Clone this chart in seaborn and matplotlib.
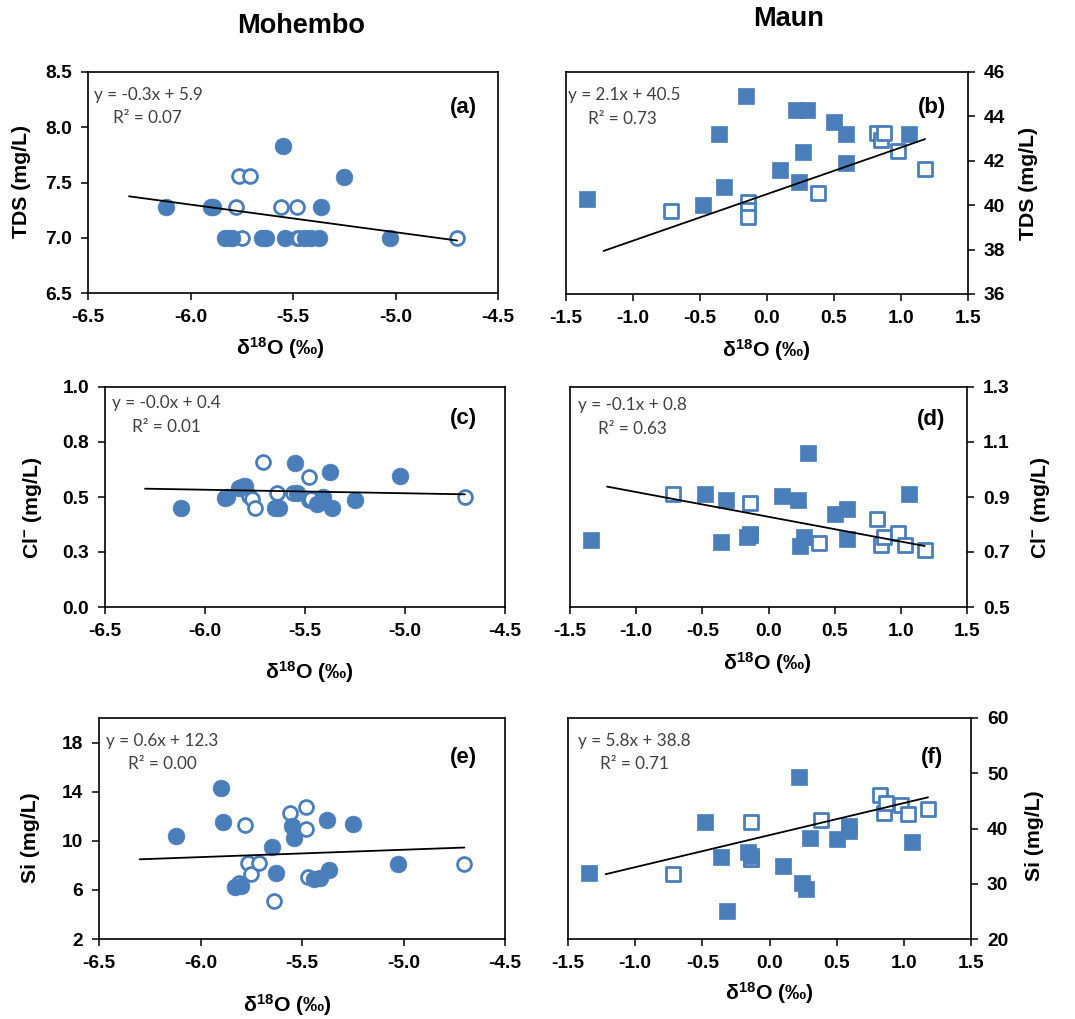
import numpy as np
import matplotlib
matplotlib.use("Agg")
import matplotlib.pyplot as plt
import seaborn as sns

nan = np.nan

# ---- Mohembo: delta-18O (permil) and solutes (mg/L); filled = one campaign, open = the other
mo_filled_d18o = [-6.12, -5.90, -5.89, -5.83, -5.80, -5.65, -5.63, -5.55, -5.54, -5.44, -5.41, -5.375, -5.365, -5.25, -5.025]
mo_filled_tds = [7.28, 7.28, 7.28, 7.00, 7.00, 7.00, 7.00, 7.83, 7.00, 7.00, 7.00, 7.00, 7.28, 7.55, 7.00]
mo_filled_cl = [0.45, 0.495, 0.50, 0.54, 0.55, 0.45, 0.45, 0.655, 0.52, 0.47, 0.50, 0.614, 0.45, 0.485, 0.597]
mo_filled_si = [10.4, 14.3, 11.5, 6.2, 6.3, 9.5, 7.4, 11.2, 10.2, 6.85, 7.0, 11.7, 7.6, 11.4, 8.1]

mo_open_d18o = [-5.81, -5.78, -5.765, -5.75, -5.71, -5.64, -5.56, -5.48, -5.48, -5.47, -4.70]
mo_open_tds = [7.00, 7.28, 7.56, 7.00, 7.56, 7.00, 7.28, 7.28, 7.00, 7.00, 7.00]
mo_open_cl = [0.548, 0.503, 0.49, 0.45, 0.658, 0.518, 0.52, 0.589, 0.488, 0.49, 0.50]
mo_open_si = [6.57, 11.28, 8.2, 7.3, 8.2, 5.07, 12.23, 12.78, 11.0, 7.06, 8.12]

# ---- Maun
mn_filled_d18o = [-1.34, -0.48, -0.36, -0.32, -0.16, -0.14, 0.10, 0.22, 0.24, 0.27, 0.30, 0.50, 0.59, 0.59, 1.06]
mn_filled_tds = [40.3, 40.0, 43.2, 40.8, 44.9, nan, 41.6, 44.3, 41.05, 42.4, 44.3, 43.75, 43.2, 41.9, 43.2]
mn_filled_cl = [0.742, 0.911, 0.736, 0.888, 0.755, 0.767, 0.902, 0.89, 0.723, 0.755, 1.06, 0.838, 0.856, 0.748, 0.911]
mn_filled_si = [31.95, 41.1, 34.8, 25.1, 35.7, 35.0, 33.3, 49.3, 30.1, 29.05, 38.3, 38.1, 40.5, 39.5, 37.5]

mn_open_d18o = [-0.72, -0.14, -0.14, -0.14, 0.38, 0.82, 0.85, 0.87, 0.98, 1.03, 1.18]
mn_open_tds = [39.75, 40.15, 39.8, 39.45, 40.55, 43.25, 42.95, 43.25, 42.45, nan, 41.65]
mn_open_cl = [0.911, 0.878, 0.76, 0.76, 0.733, 0.821, 0.727, 0.755, 0.769, 0.727, 0.708]
mn_open_si = [31.8, 41.1, 34.4, 34.4, 41.5, 46.1, 42.8, 44.6, 44.3, 42.6, 43.6]

# ---- linear trend lines (a)..(f)
trend_slopes = [-0.25, 2.1, -0.016, -0.09, 0.6, 5.8]
trend_intercepts = [5.80, 40.5, 0.437, 0.828, 12.27, 38.8]
mo_trend_x = [-6.3, -4.7]
mn_trend_x = [-1.22, 1.18]
equations = ["y = -0.3x + 5.9", "y = 2.1x + 40.5", "y = -0.0x + 0.4",
             "y = -0.1x + 0.8", "y = 0.6x + 12.3", "y = 5.8x + 38.8"]
r_squared = ["R\u00b2 = 0.07", "R\u00b2 = 0.73", "R\u00b2 = 0.01",
             "R\u00b2 = 0.63", "R\u00b2 = 0.00", "R\u00b2 = 0.71"]
panel_tags = ["(a)", "(b)", "(c)", "(d)", "(e)", "(f)"]
site_titles = ["Mohembo", "Maun"]

# ---- axis scales
mo_xticks = [-6.5, -6.0, -5.5, -5.0, -4.5]
mn_xticks = [-1.5, -1.0, -0.5, 0.0, 0.5, 1.0, 1.5]
y_limits = [(6.5, 8.5), (36, 46), (0.0, 1.0), (0.5, 1.3), (2, 20), (20, 60)]
y_ticks = [[6.5, 7.0, 7.5, 8.0, 8.5], [36, 38, 40, 42, 44, 46], [0.0, 0.25, 0.5, 0.75, 1.0],
           [0.5, 0.7, 0.9, 1.1, 1.3], [2, 6, 10, 14, 18], [20, 30, 40, 50, 60]]
y_ticklabels = [["6.5", "7.0", "7.5", "8.0", "8.5"], ["36", "38", "40", "42", "44", "46"],
                ["0.0", "0.3", "0.5", "0.8", "1.0"], ["0.5", "0.7", "0.9", "1.1", "1.3"],
                ["2", "6", "10", "14", "18"], ["20", "30", "40", "50", "60"]]
y_labels = ["TDS (mg/L)", "TDS (mg/L)", r"Cl$^{\mathbf{-}}$ (mg/L)", r"Cl$^{\mathbf{-}}$ (mg/L)",
            "Si (mg/L)", "Si (mg/L)"]
x_label = "\u03b4$^{\\mathbf{18}}$O (\u2030)"

sns.set_theme(style="ticks")
plt.rcParams["font.family"] = ["Liberation Sans", "DejaVu Sans"]
plt.rcParams["mathtext.fontset"] = "custom"
plt.rcParams["mathtext.rm"] = "Liberation Sans"
plt.rcParams["mathtext.bf"] = "Liberation Sans:bold"
plt.rcParams["mathtext.it"] = "Liberation Sans:italic"
plt.rcParams["axes.unicode_minus"] = False
for key in ["text.color", "axes.labelcolor", "xtick.color", "ytick.color", "axes.edgecolor"]:
    plt.rcParams[key] = "black"

BLUE = "#4A7EBB"
W, H = 1075, 1019
fig = plt.figure(figsize=(W / 100, H / 100), dpi=100)
fig.patch.set_facecolor("white")

# pixel boxes (left, top, right, bottom) for each panel
boxes = [(88, 72, 498, 293), (566, 72, 968, 294), (105, 387, 505, 607),
         (570, 387, 967, 607), (99, 718, 505, 939), (568, 718, 971, 939)]
ylabel_px = [(22, 182), (1028, 184), (32, 508), (1040, 508), (30, 838), (1035, 836)]
xlabel_px = [(280, 348), (766, 350), (309, 672), (767, 663), (287, 1005), (769, 993)]
eq_pos = [(0.015, 0.896), (0.004, 0.896), (0.017, 0.927), (0.02, 0.92), (0.017, 0.896), (0.025, 0.896)]
r2_pos = [(0.061, 0.79), (0.055, 0.79), (0.067, 0.818), (0.07, 0.81), (0.071, 0.79), (0.08, 0.79)]
tag_pos = [(0.915, 0.84), (0.91, 0.84), (0.895, 0.855), (0.91, 0.85), (0.897, 0.82), (0.903, 0.82)]

filled_y = [mo_filled_tds, mn_filled_tds, mo_filled_cl, mn_filled_cl, mo_filled_si, mn_filled_si]
open_y = [mo_open_tds, mn_open_tds, mo_open_cl, mn_open_cl, mo_open_si, mn_open_si]

for i in range(6):
    right_col = i % 2 == 1
    l, t, r, b = boxes[i]
    ax = fig.add_axes([l / W, 1 - b / H, (r - l) / W, (b - t) / H])
    ax.set_facecolor("white")

    if right_col:
        fx, ox, marker, s_f, s_o = mn_filled_d18o, mn_open_d18o, "s", 145, 100
        xticks, tx = mn_xticks, mn_trend_x
    else:
        fx, ox, marker, s_f, s_o = mo_filled_d18o, mo_open_d18o, "o", 145, 100
        xticks, tx = mo_xticks, mo_trend_x

    # open symbols first, filled symbols drawn over them
    sns.scatterplot(x=ox, y=open_y[i], ax=ax, marker=marker, s=s_o, color=BLUE,
                    facecolor="white", edgecolor=BLUE, linewidth=2.0, zorder=3, clip_on=False)
    sns.scatterplot(x=fx, y=filled_y[i], ax=ax, marker=marker, s=s_f, color=BLUE,
                    edgecolor=BLUE, linewidth=0.5, zorder=4, clip_on=False)

    xs = np.array(tx)
    sns.lineplot(x=xs, y=trend_slopes[i] * xs + trend_intercepts[i], ax=ax,
                 color="black", linewidth=1.3, zorder=5)

    ax.set_xlim(xticks[0], xticks[-1])
    ax.set_ylim(*y_limits[i])
    ax.set_xticks(xticks, labels=[f"{v:.1f}" for v in xticks], fontweight="bold", fontsize=13.8)
    ax.set_yticks(y_ticks[i], labels=y_ticklabels[i], fontweight="bold", fontsize=13.8)
    ax.tick_params(axis="both", direction="out", length=5, width=1.1, color="black",
                   labelcolor="black", pad=6.5)
    if right_col:
        ax.yaxis.tick_right()
        ax.yaxis.set_label_position("right")
    for sp in ax.spines.values():
        sp.set_visible(True)
        sp.set_color("black")
        sp.set_linewidth(1.2)

    ax.set_xlabel(x_label, fontweight="bold", fontsize=15.3, color="black")
    ax.set_ylabel(y_labels[i], fontweight="bold", fontsize=15.3, color="black")
    px, py = xlabel_px[i]
    ax.xaxis.set_label_coords((px - l) / (r - l), (b - py) / (b - t))
    ax.xaxis.label.set_va("center")
    px, py = ylabel_px[i]
    ax.yaxis.set_label_coords((px - l) / (r - l), (b - py) / (b - t))
    ax.yaxis.label.set_va("center")
    ax.yaxis.label.set_ha("center")

    ax.text(*eq_pos[i], equations[i], transform=ax.transAxes, ha="left", va="center",
            fontsize=12.3, color="#404040", family=["Lato", "DejaVu Sans"], zorder=6)
    ax.text(*r2_pos[i], r_squared[i], transform=ax.transAxes, ha="left", va="center",
            fontsize=12.3, color="#404040", family=["Lato", "DejaVu Sans"], zorder=6)
    ax.text(*tag_pos[i], panel_tags[i], transform=ax.transAxes, ha="center", va="center",
            fontsize=16, fontweight="bold", color="black", zorder=6)

fig.text(301 / W, 1 - 26 / H, site_titles[0], ha="center", va="center",
         fontsize=19.5, fontweight="bold", color="black")
fig.text(789 / W, 1 - 19 / H, site_titles[1], ha="center", va="center",
         fontsize=19.5, fontweight="bold", color="black")

fig.savefig("out.png", dpi=100, facecolor="white")
